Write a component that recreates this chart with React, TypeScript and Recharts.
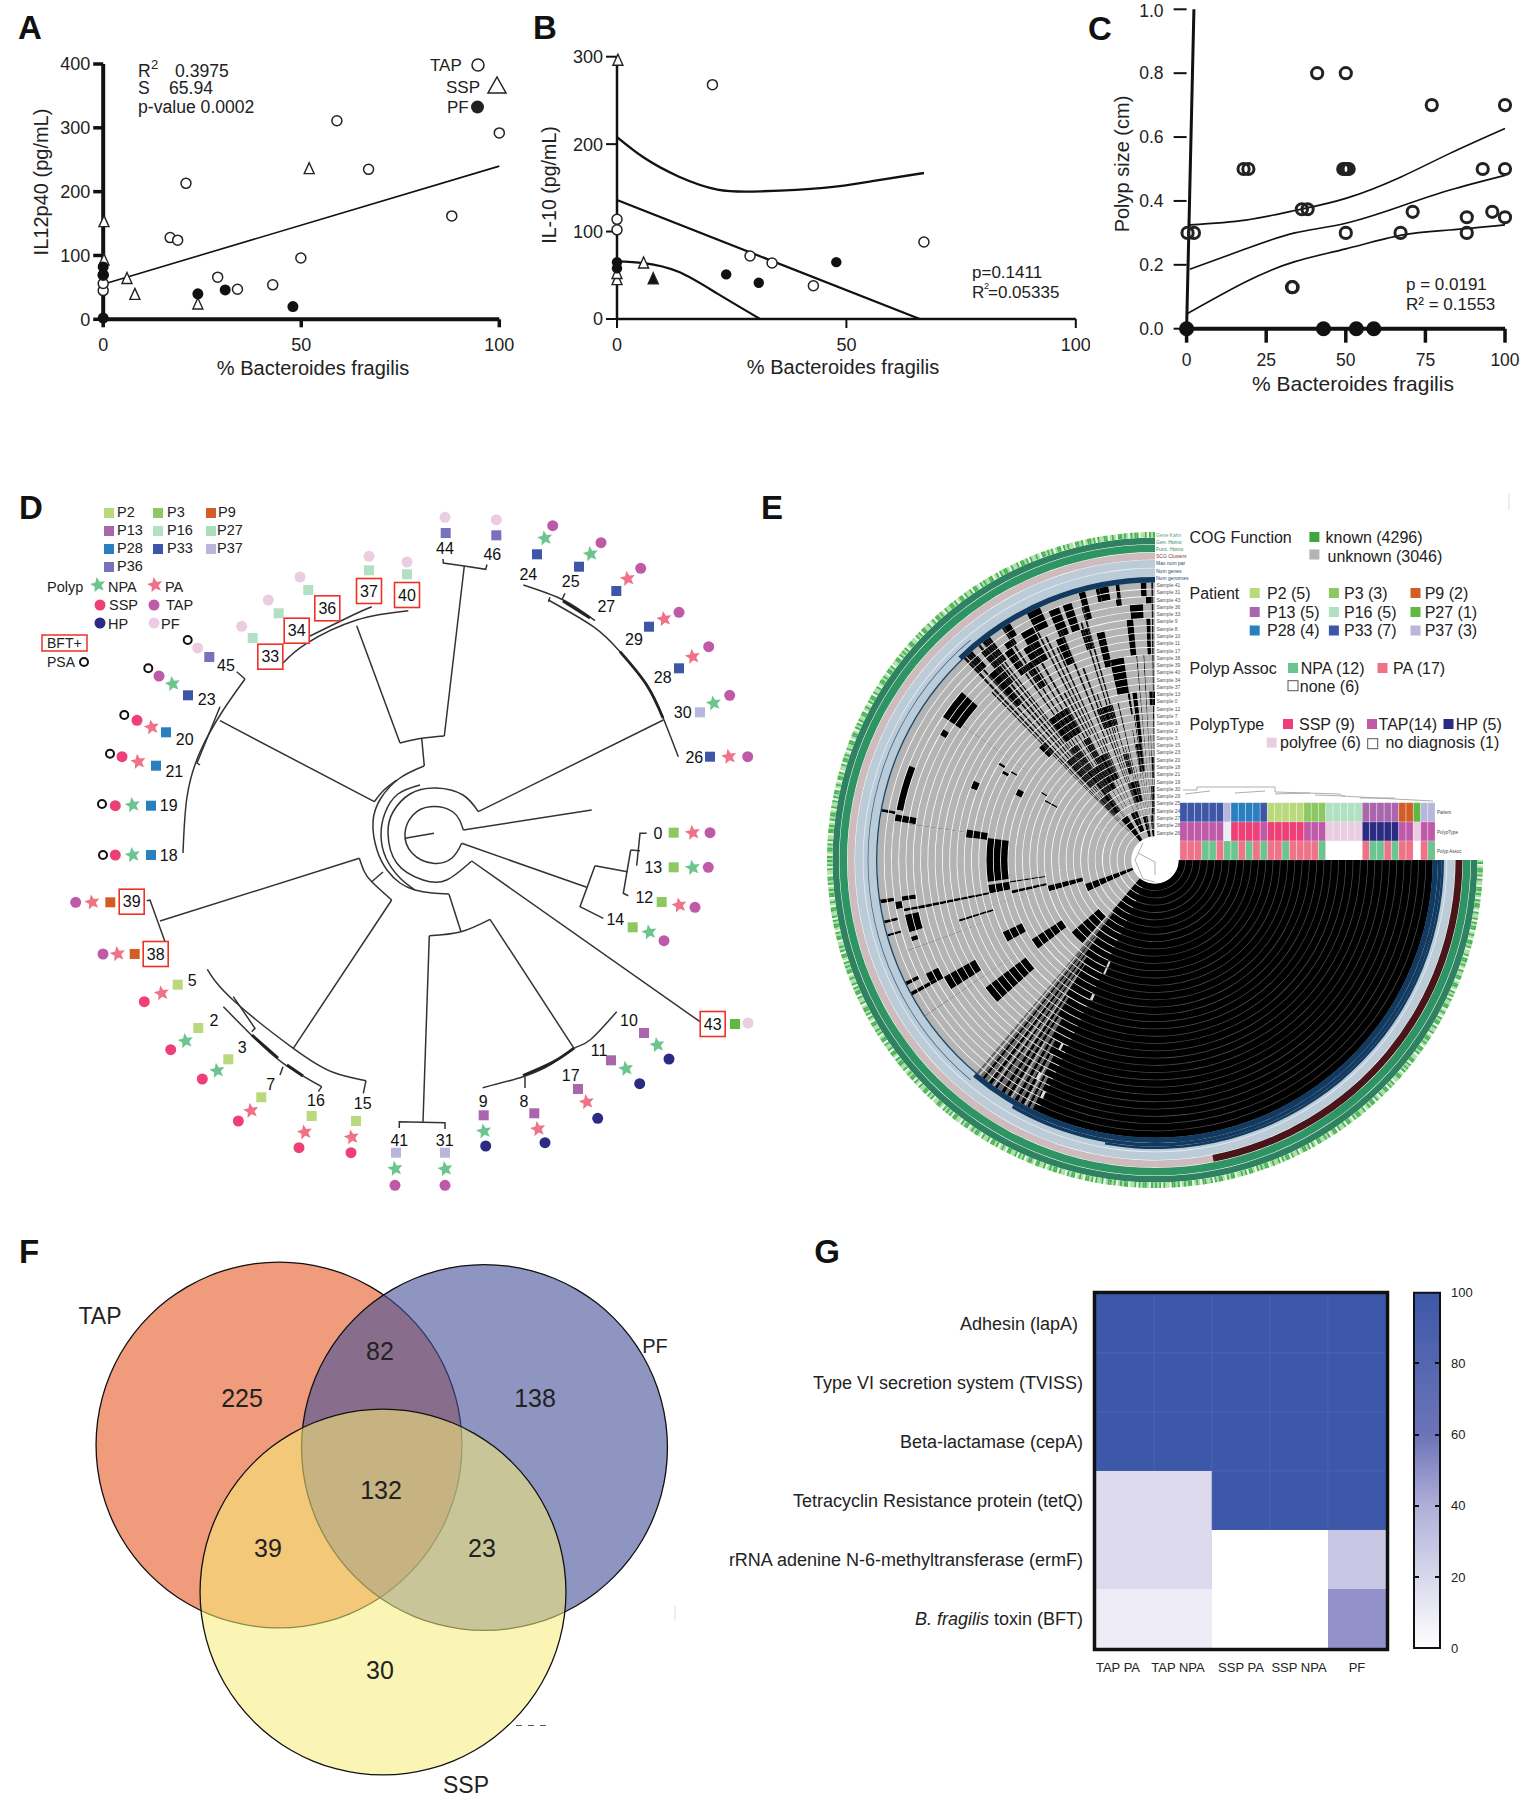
import React from 'react'
import {
  Bar, BarChart, Cell, ComposedChart, Line, Pie, PieChart, Scatter, XAxis, YAxis,
} from 'recharts'

const FONT = '"Liberation Sans", Arial, sans-serif'
const INK = '#222'

// ---------- panels A, B, C: x = % B. fragilis, y = measured value ----------
const aTap = [[0,45],[0,56],[0,69],[16.9,128],[18.8,124],[20.9,213],[28.9,66],[33.9,47],[42.8,54],[49.9,96],[59,311],[67,235],[88,162],[100,292]]
const aSsp = [[0.2,153],[0.2,93],[6,64],[8,39],[23.9,24],[52,236]]
const aPf = [[0,82],[0,70],[23.9,40],[30.8,46],[47.9,20],[0,2]]
const aFit = [[0,55],[100,240]]

const bTap = [[0,114],[0,102],[20.8,268],[29,72],[33.8,64],[42.8,38],[66.9,88]]
const bSsp = [[0.2,296],[5.8,64],[0,45],[0,52]]
const bSspFilled = [[7.9,46]]
const bPf = [[0,65],[0,58],[23.8,51],[30.9,41.5],[47.8,65]]
const bUpper = [[0,208],[6,184],[13.4,163],[21.9,148],[31.2,146],[45,150],[56,158],[66.9,167]]
const bMid = [[0,136],[66,0]]
const bLower = [[0,66],[5.9,64],[13.4,54],[21.9,29],[31.2,0]]

const cOpen = [[0.3,0.3],[2.3,0.3],[17.9,0.5],[19.4,0.5],[33.1,0.13],[33.3,0.13],[36.2,0.374],[38,0.374],[41,0.8],[50,0.8],[49.2,0.5],[49.8,0.5],[50.3,0.5],[50.9,0.5],[50,0.3],[67.2,0.3],[71,0.366],[77,0.7],[88,0.349],[88,0.3],[93,0.5],[96,0.366],[100,0.7],[100,0.5],[100,0.349]]
const cFilled = [[0,0],[43,0],[53.3,0],[58.8,0]]
const cUpper = [[1,0.325],[18.6,0.34],[34,0.37],[50,0.408],[67.5,0.476],[82.7,0.549],[100,0.627]]
const cMid = [[1,0.186],[18.6,0.25],[34,0.3],[50,0.33],[67.5,0.384],[82.7,0.434],[100,0.48]]
const cLower = [[0,0.046],[18.6,0.147],[34,0.21],[50,0.25],[67.5,0.293],[82.7,0.309],[100,0.325]]
const cAxisLean = [[0,0],[2.3,1]]

const toXY = (rows: number[][]) => rows.map(([x, y]) => ({ x, y }))

// ---------- panel D: tree read in picture units ----------
const COL: Record<string, string> = {
  P2: '#BAD97C', P3: '#8DC863', P9: '#D25E26', P13: '#A966AC', P16: '#B2E0C2', P27: '#5FB83F', P28: '#2A7FC0',
  P33: '#3D56A8', P36: '#7772BB', P37: '#B8B6DC', NPA: '#6CC48F', PA: '#EE7288', SSP: '#EE3F77', TAP: '#BF5AA8',
  HP: '#2B2B83', PF: '#EBCDE2', none: '#E8EEF4', blank: '#FFFFFF',
}

const tipLabels: [string, number, number, boolean][] = [
  ['45',226,665.7,false],['23',206.7,699.3,false],['20',184.7,739.3,false],['21',174.3,771.7,false],['19',168.7,805.7,false],['18',168.7,855,false],
  ['39',131.7,901.7,true],['38',155.7,954,true],['5',192.3,980.3,false],['2',214,1020.3,false],['3',242.3,1047.7,false],['7',270.7,1084.3,false],
  ['16',316,1100.7,false],['15',362.7,1103.3,false],['41',399.3,1140,false],['31',444.7,1140,false],['9',483.3,1101,false],['8',524,1101.7,false],
  ['17',570.7,1075.3,false],['11',599,1050,false],['10',629,1020,false],['43',712.7,1024,true],['14',615.3,919.7,false],['12',644.3,897.3,false],
  ['13',653.3,867.3,false],['0',658,833.3,false],['26',694.3,757.3,false],['30',682.7,712.3,false],['28',662.7,677.7,false],['29',634,639.3,false],
  ['27',606.3,606,false],['25',570.7,581.7,false],['24',528.3,574,false],['46',492.3,554,false],['44',445,548.3,false],['40',407,595,true],
  ['37',369,591,true],['36',327.3,608.3,true],['34',296.7,630.7,true],['33',270.3,656.7,true],
]
const squareMarks: [string, number, number][] = [
  ['P36',209.3,657],['P33',188,695.3],['P28',166,732.3],['P28',156,765.7],['P28',151,805.7],['P28',151,855],['P9',110.3,902.3],['P9',134.7,954],
  ['P2',177.7,984.7],['P2',198.3,1028],['P2',228.3,1059.3],['P2',261.3,1097.3],['P2',311.7,1116],['P2',356,1121],['P37',396,1152.7],['P37',445,1152.7],
  ['P13',483.7,1115.3],['P13',534.3,1113.3],['P13',578,1089],['P13',611,1060.3],['P13',644,1033],['P27',735,1024],['P3',632.7,927.3],['P3',661.7,902],
  ['P3',673.7,867.3],['P3',673.7,832.7],['P33',710,756.7],['P37',700,712.3],['P33',679,668.3],['P33',649,626.7],['P33',616.3,591],['P33',579,566.7],
  ['P33',537,554.3],['P36',496.3,535.3],['P36',445.7,533],['P16',407,574.3],['P16',369,570.3],['P16',308.3,590],['P16',278.7,613.3],['P16',252.7,638],
]
const starMarks: [string, number, number][] = [
  ['NPA',172.7,684],['PA',151.7,727.3],['PA',138.3,761.7],['NPA',132.7,805],['NPA',132.7,855],['PA',92.3,902.3],['PA',117.7,954],['PA',161.7,993.3],
  ['NPA',185.7,1041],['NPA',217.3,1070.7],['PA',251,1110.7],['PA',304.7,1132.3],['PA',351.7,1137.3],['NPA',395.3,1168.7],['NPA',445.3,1169],['NPA',484,1131.3],
  ['PA',538,1129],['PA',586.7,1102],['NPA',626,1068.7],['NPA',657.3,1045],['NPA',649.3,932.3],['PA',679.3,905.3],['NPA',692.7,867.7],['PA',692.7,832.7],
  ['PA',729,756.7],['NPA',713.7,703.3],['PA',692.7,656.7],['PA',664.3,619],['PA',627.7,578.7],['NPA',590.7,554],['NPA',545,538.3],
]
const dotMarks: [string, number, number][] = [
  ['PF',197.7,648],['TAP',159,676],['SSP',137,720.3],['SSP',122,756.7],['SSP',115.3,805.7],['SSP',115.3,855],['TAP',75.7,902.3],['TAP',103,954],
  ['SSP',144.3,1001.7],['SSP',170.7,1049.7],['SSP',202.3,1079],['SSP',238.3,1121],['SSP',299,1147.7],['SSP',351,1152.7],['TAP',395,1185.3],['TAP',445,1185.3],
  ['HP',485.7,1146],['HP',545,1142.7],['HP',597.7,1118.3],['HP',639.7,1083.7],['HP',669,1059],['PF',748,1023],['TAP',664,940.7],['TAP',695,907.3],
  ['TAP',708.3,867.3],['TAP',710,832.7],['TAP',747.7,756.7],['TAP',729.7,695.3],['TAP',708.7,646.7],['TAP',679,612.3],['TAP',640.7,568.3],['TAP',601,542.7],
  ['TAP',552.7,525.7],['PF',496.3,519.7],['PF',445,517.3],['PF',407,562],['PF',369,556.3],['PF',300,577],['PF',268.3,600],['PF',241.7,626.3],
]
const bftRings = [[187.7,640],[148.3,668.3],[124.3,715],[110,753.7],[102,804],[103,855]]

const treeStraight = [
  [[356.7,625.7],[400,743]],[[444.3,736],[464.3,566]],[[443,559],[443.3,563],[464.3,566],[485.7,569.3],[487,564.5]],[[421.7,738.3],[424.3,766]],
  [[463.3,830],[591.7,810]],[[461.7,843.3],[586.7,887.3]],[[595,865.7],[580,906.7],[603.3,918.3]],[[595,865.7],[627.3,871.7]],
  [[630.7,850],[623.3,893.3],[628.3,895.7]],[[630.7,850],[640,850.7]],[[646.7,833.3],[640,833.3],[636.7,865.7]],[[478.3,811.7],[663.3,720]],
  [[471.7,861],[700,1021.7]],[[405,838.3],[434,833.3]],[[449,894.3],[461,931.7]],[[429.3,935.7],[423,1121.7]],
  [[399.3,1128],[399.3,1121.7],[445,1122.7],[445,1129]],[[490,919.3],[574,1048.3]],[[220,720.7],[374.3,801.7]],[[359.3,858.3],[160,921]],
  [[391.7,900],[293.3,1048.3]],[[146.7,900.7],[150,900],[165,941.7]],[[371.7,881.7],[383,872]],[[363.3,1093.3],[366,1080.7]],[[318.3,1091.7],[321.7,1086.7]],
  [[233.3,996.7],[255,1028.3],[251.7,1031.7]],[[283,1066.7],[280,1075]],[[565,593.3],[561.7,600]],[[550,597.3],[548.3,601.7]],[[236.7,671.7],[245,679]],
  [[525,1076.7],[525,1088]],[[220,706.7],[197,763],[200,765]],
]
const treeArcs = [
  [[283.3,662.7],[306.7,643.3],[356.7,620],[408.3,610.7]],[[308,637],[353,615],[371.7,606.7]],[[400,743],[421.7,738.3],[444.3,736]],
  [[424,766],[400,778],[381,798],[373,822],[377,850],[387,870],[400,883],[415,890],[432,893],[449,894]],[[374.3,801.7],[384,790],[396.7,780]],
  [[359.3,858.3],[364,871],[371.7,881.7],[391.7,900]],
  [[463.3,830],[453,812],[430,806.7],[413,815],[405,833],[412,853],[433,863.3],[452,858],[461.7,843.3]],
  [[478.3,811.7],[463,795],[436,788],[410,794],[393,812],[388,833],[396.7,863],[423,880],[446.7,880],[471.7,861]],
  [[420,785],[398,794],[385,813],[381,835],[386,858],[400,878],[415,890]],
  [[616.7,1011.7],[590,1040],[574,1048.3],[553,1063],[523,1076.7],[482.7,1087.7]],[[429.3,935.7],[461,931.7],[490,919.3]],
  [[245,679],[222,712],[200,752],[187,797],[183,853]],[[207.3,969.3],[233,1000],[293.3,1048.3],[333,1072.3],[366,1080.7]],
  [[223.3,1006.7],[253,1036.7],[283.3,1063.3],[321.7,1086.7]],
  [[548.3,600],[593.3,626.7],[620,651.7],[646.7,685],[663.3,718.3],[678.3,756.7]],[[523.3,585],[563.3,600],[595,620.7]],
]
const treeHeavy = [
  [[523,1075.5],[553,1062],[574,1048]],[[252,1035],[278,1058]],[[287,1065],[303,1076]],[[620,651.7],[646.7,685],[663,718]],[[563,601],[590,618]],
]
// the tiny trees of panel E
const eTreeGray = [
  [[1143,843],[1135,860],[1143,879],[1155,882]],[[1138,853],[1155,862],[1155,875]],[[1183,790],[1197,790],[1197,787],[1275,787],[1275,792],[1340,794],[1342,796],[1395,799],[1433,801]],
  [[1185,794],[1210,791]],[[1235,793],[1265,791]],[[1275,794],[1310,793]],[[1315,795],[1345,796]],[[1360,798],[1395,798]],
]

// ---------- panel E: ring index 0 is the innermost sample, 34 the outermost ----------
const samples = ['41','31','43','36','33','9','8','10','11','17','38','39','40','34','37','13','0','12','7','16','2','3','15','23','20','18','21','19','30','29','25','24','27','28','26']
const ringHeads: [string, string][] = [['Gene Kahn','#5aa97c'],['Gen. Homo','#2d8a5f'],['Func. Homo','#2d8a5f'],['SCG Clusters','#7a3b3b'],['Max num par','#1d4a6a'],['Num genes','#1d4a6a'],['Num genomes','#1d4a6a']]

// [from deg, to deg, first ring, last ring]
const grayZoneBlocks = [
  [139,146,29,31],[148.3,149.8,30,30],[159,169,32,32],[169.4,170,33,34],[170,171.5,30,32],[170.8,173.2,20,22],[172.5,187.5,17,19],[188.5,191.5,17,19],
  [188.2,189,33,34],[189.2,190.8,32,32],[188.2,189.2,30,31],[192.4,196.4,30,31],[191,191.6,30,31],[192.6,193.2,33,34],[195.5,196,33,34],[197.5,198.5,31,31],
  [191,191.7,20,29],[188.3,188.9,12,16],[192,193.2,12,16],[193.5,196.5,7,11],[199,205,0,6],[196.9,197.5,20,24],[209,212.4,25,29],[206.4,209.2,30,31],
  [206,206.8,33,34],[208.4,209.2,31,34],[217,222,19,25],[205.4,209,17,19],[212.8,217.2,12,16],[221,229,7,11],[156.4,158.7,23,23],[152.6,155,17,17],
  [149.5,150.5,20,20],[147.9,148.7,21,21],[149,149.7,14,14],[151.3,152.1,12,13],[148.2,148.8,19,19],
]
const wedgeBlocks = [
  [91.8,93,33,34],[90.5,92,32,32],[92.7,95.7,30,31],[99.7,101.6,33,34],[97.4,98.2,33,34],[97.4,98.6,32,32],[101.6,102.4,33,34],[91.1,92.1,25,29],[95.2,96.8,25,29],
  [102.5,104.5,24,28],[98.8,102.8,20,24],[104.6,106,31,34],[110.8,113.2,30,33],[112.1,114.3,26,29],[105.3,111.3,16,18],[90,92,18,19],[96.2,97.8,13,19],[98.6,99.4,17,19],
  [120,127,17,20],[122.5,125,32,32],[121.5,123,33,34],[117.7,120.7,31,32],[131.2,132.8,33,34],[131,133,32,33],[130,132,25,30],[133,136,17,18],[118,128,8,11],
  [102,110,5,7],[125,133,5,7],[90.5,93.5,3,6],[96.5,99.5,9,12],[92,96,0,2],[100,106,0,2],[110,118,1,3],[122,130,0,3],
  [124,126,28,31],[126.5,128.5,31,34],[128.5,130,28,33],[122,124,25,28],[118,122,28,30],[114.5,117.5,32,34],[108,110,30,33],[106,108,27,29],[124,128,12,15],
  [128,132,10,14],[114,118,9,12],[90.5,92,8,10],[104,107,9,11],[118,121,12,15],
]
const wedgeStreaks = [
  [133,133.6,1,34],[130.2,130.8,3,26],[127.8,128.3,8,34],[125.8,126.3,4,16],[121.3,121.8,5,28],[118.2,118.8,5,22],[115.8,116.3,6,30],[113.2,113.8,2,14],
  [110.2,110.8,8,24],[107.8,108.3,2,15],[105.8,106.3,10,32],[104.6,105,3,12],[101.6,102,1,9],[99.6,100,1,14],[96.3,96.7,3,12],[94.3,94.7,1,7],[91.8,92.2,0,13],
  [112,112.6,14,30],[114.5,115,10,28],[117,117.5,16,32],[119.6,120.2,10,30],[123,123.5,8,34],[124.5,125,4,30],[127,127.4,12,34],[129,129.6,6,34],[131.8,132.3,2,34],
  [134,134.4,3,28],[109,109.5,4,20],[107,107.5,15,30],[103,103.5,6,18],[98,98.4,4,16],[95,95.3,8,24],[93,93.3,4,24],[90.4,90.8,0,34],
]
const faintStreaks = [[171.5,171.8,23,30],[186,186.3,8,16],[191.9,192.2,8,12],[195.3,195.6,12,19],[200,200.3,22,32],[214,214.3,20,34],[150.5,150.8,4,11],[145,145.3,14,28]]
const mixedDark = [[230,231.6,6,34],[232.2,233.2,10,34],[234,234.8,13,34],[235.4,236.4,16,34],[237.2,237.8,19,34],[238.6,239.6,22,34],[240.4,241,25,34],[241.8,242.6,27,34],[243.2,243.8,30,34]]
const mixedPale = [[230.6,231,14,34],[233,233.2,20,34],[234.4,234.6,24,34],[236,236.2,14,28],[238.8,239,26,34],[242,242.2,29,34]]
const coreFlecks = [[245.5,246.5,12,13],[245,246,17,17],[243,243.6,25,25],[244.2,244.8,32,32],[241.4,242,30,30]]

const cogSpeckle = 'abacabbcaabacbabaacbabcaabbacabaabcabaacbbabacaabcababaacbabbacabaacabbacbaabacabcaabbabacbaacabbacaabcabaabbacbabaacabcabbaacabacbbaabcababacaabbcabaacbabaabcabbacaabacbabcaabbacabacbaabcaabbacbabaacabbcabaacbabcaabacabbacbaabacbabaacbbacabaabcab'

const stripPatient = ['P33','P33','P33','P33','P33','P33','P37','P28','P28','P28','P28','P33','P2','P2','P2','P2','P2','P3','P3','P3','P16','P16','P16','P16','P16','P13','P13','P13','P13','P13','P9','P9','P27','P37','P37']
const stripType = ['TAP','TAP','TAP','TAP','TAP','TAP','none','SSP','SSP','SSP','SSP','TAP','SSP','SSP','SSP','SSP','SSP','TAP','TAP','TAP','PF','PF','PF','PF','PF','HP','HP','HP','HP','HP','TAP','TAP','PF','TAP','TAP']
const stripAssoc = ['PA','PA','PA','NPA','NPA','PA','NPA','NPA','PA','NPA','PA','NPA','PA','PA','NPA','PA','PA','PA','PA','NPA','blank','blank','blank','blank','blank','PA','NPA','NPA','PA','NPA','PA','PA','blank','PA','NPA']

// ---------- panel F ----------
const vennCounts: [string, number, number][] = [['225',242,1398],['82',380,1351],['138',535,1398],['132',381,1490],['39',268,1548],['23',482,1548],['30',380,1670]]
const vennSets = [
  { name: 'TAP', cx: 279, cy: 225, fill: '#F09B7B', alpha: 1 },
  { name: 'PF', cx: 484.5, cy: 227.5, fill: '#444E98', alpha: 0.6 },
  { name: 'SSP', cx: 383, cy: 372, fill: '#F8ED78', alpha: 0.55 },
]

// ---------- panel G ----------
const heatGenes = ['Adhesin (lapA)','Type VI secretion system (TVISS)','Beta-lactamase (cepA)','Tetracyclin Resistance protein (tetQ)','rRNA adenine N-6-methyltransferase (ermF)','B. fragilis toxin (BFT)']
const heatGroups = ['TAP PA','TAP NPA','SSP PA','SSP NPA','PF']
const heatTapPa = [100,100,100,20,20,8]
const heatTapNpa = [100,100,100,20,20,8]
const heatSspPa = [100,100,100,100,0,0]
const heatSspNpa = [100,100,100,100,0,0]
const heatPf = [100,100,100,100,25,50]
const heatColumns = [heatTapPa, heatTapNpa, heatSspPa, heatSspNpa, heatPf]
const heatScale: Record<number, string> = { 100: '#3D58A8', 50: '#9291C9', 25: '#C9C8E4', 20: '#DCDAEC', 8: '#ECEBF6', 0: '#FFFFFF' }
const scaleTicks = [0, 20, 40, 60, 80, 100]

// ---------- helpers ----------
const place = (left: number, top: number): React.CSSProperties => ({ position: 'absolute', left, top })

function starPoints(cx: number, cy: number, r: number) {
  const pts: string[] = []
  for (let i = 0; i < 10; i++) {
    const rad = i % 2 === 0 ? r : r * 0.45
    const a = (-100 + i * 36) * Math.PI / 180
    pts.push(`${cx + rad * Math.cos(a)},${cy + rad * Math.sin(a)}`)
  }
  return pts.join(' ')
}

const openCircle = (r: number, sw: number) => (p: any) => <circle cx={p.cx} cy={p.cy} r={r} fill="#fff" fillOpacity={sw > 2 ? 0 : 1} stroke={INK} strokeWidth={sw} />
const solidCircle = (r: number) => (p: any) => <circle cx={p.cx} cy={p.cy} r={r} fill="#111" />
const triangle = (fill: string) => (p: any) => <polygon points={`${p.cx},${p.cy - 6} ${p.cx + 5},${p.cy + 5} ${p.cx - 5},${p.cy + 5}`} fill={fill} stroke={INK} strokeWidth={1.4} />

const markSquare = (p: any) => <rect x={p.cx - 5} y={p.cy - 5} width={10} height={10} fill={COL[p.payload.kind]} />
const markStar = (p: any) => <polygon points={starPoints(p.cx, p.cy, 8)} fill={COL[p.payload.kind]} />
const markDot = (p: any) => <circle cx={p.cx} cy={p.cy} r={5.5} fill={COL[p.payload.kind]} />
const markRing = (p: any) => <circle cx={p.cx} cy={p.cy} r={4} fill="none" stroke="#111" strokeWidth={2} />
const markLabel = (p: any) => (
  <g>
    {p.payload.boxed && <rect x={p.cx - 12.5} y={p.cy - 12.5} width={25} height={25} fill="#fff" stroke="#EE3124" strokeWidth={1.6} />}
    <text x={p.cx} y={p.cy} textAnchor="middle" dominantBaseline="central" fontFamily={FONT} fontSize={16} fill="#111">{p.payload.label}</text>
  </g>
)

function T({ x, y, s = 17, a = 'start', w, i, c = INK, rot, children }: any) {
  return (
    <text x={x} y={y} fontSize={s} textAnchor={a} fontWeight={w} fontStyle={i ? 'italic' : undefined} fill={c} fontFamily={FONT}
      dominantBaseline="central" transform={rot ? `rotate(${rot} ${x} ${y})` : undefined}>{children}</text>
  )
}
const Sq = ({ x, y, k, c }: any) => <rect x={x - 5} y={y - 5} width={10} height={10} fill={c || COL[k]} />
const Dot = ({ x, y, k }: any) => <circle cx={x} cy={y} r={5.5} fill={COL[k]} />
const Star = ({ x, y, k }: any) => <polygon points={starPoints(x, y, 8)} fill={COL[k]} />

// ---------- panels A-C ----------
function axisProps(size: number, strokeWidth: number, tickLen: number, margin: number) {
  return {
    tick: { fontSize: size, fill: INK, fontFamily: FONT },
    axisLine: { stroke: '#111', strokeWidth },
    tickLine: { stroke: '#111', strokeWidth: Math.max(2, strokeWidth - 0.5) },
    tickSize: tickLen,
    tickMargin: margin,
  }
}
const fitLine = (key: string, rows: number[][], type: any, width = 1.6) => (
  <Line key={key} data={toXY(rows)} dataKey="y" type={type} stroke="#111" strokeWidth={width} dot={false} activeDot={false} isAnimationActive={false} legendType="none" />
)

function PanelA() {
  return (
    <div style={place(0, 30)}>
      <ComposedChart width={520} height={340} margin={{ left: 23.2, right: 20.7, top: 34, bottom: 10.7 }}>
        <XAxis type="number" dataKey="x" domain={[0, 100]} ticks={[0, 50, 100]} height={40} {...axisProps(18, 4, 8, 11)} />
        <YAxis type="number" dataKey="y" domain={[0, 400]} ticks={[0, 100, 200, 300, 400]} width={80} {...axisProps(18, 4, 10, 3)} />
        {fitLine('fit', aFit, 'linear')}
        <Scatter data={toXY(aTap)} shape={openCircle(5, 1.5)} isAnimationActive={false} />
        <Scatter data={toXY(aSsp)} shape={triangle('#fff')} isAnimationActive={false} />
        <Scatter data={toXY(aPf)} shape={solidCircle(5.5)} isAnimationActive={false} />
      </ComposedChart>
    </div>
  )
}

function PanelB() {
  return (
    <div style={place(530, 30)}>
      <ComposedChart width={560} height={340} margin={{ left: 27, right: 14.2, top: 26.7, bottom: 11 }}>
        <XAxis type="number" dataKey="x" domain={[0, 100]} ticks={[0, 50, 100]} height={40} {...axisProps(18, 2.5, 9, 10)} />
        <YAxis type="number" dataKey="y" domain={[0, 300]} ticks={[0, 100, 200, 300]} width={60} {...axisProps(18, 2.5, 11, 3)} />
        {fitLine('up', bUpper, 'natural', 2.4)}
        {fitLine('mid', bMid, 'linear', 2.2)}
        {fitLine('low', bLower, 'natural', 2.2)}
        <Scatter data={toXY(bTap)} shape={openCircle(5, 1.5)} isAnimationActive={false} />
        <Scatter data={toXY(bSsp)} shape={triangle('#fff')} isAnimationActive={false} />
        <Scatter data={toXY(bSspFilled)} shape={triangle('#111')} isAnimationActive={false} />
        <Scatter data={toXY(bPf)} shape={solidCircle(5.2)} isAnimationActive={false} />
      </ComposedChart>
    </div>
  )
}

function PanelC() {
  return (
    <div style={place(1100, 0)}>
      <ComposedChart width={422} height={380} margin={{ left: 26.6, right: 17, top: 9.3, bottom: 11.3 }}>
        <XAxis type="number" dataKey="x" domain={[0, 100]} ticks={[0, 25, 50, 75, 100]} height={40} {...axisProps(17.5, 4, 14, 11)} />
        <YAxis type="number" dataKey="y" domain={[0, 1]} ticks={[0, 0.2, 0.4, 0.6, 0.8, 1]} width={60} tickFormatter={(v: number) => v.toFixed(1)}
          {...axisProps(17.5, 0, 13, 10)} axisLine={false} />
        {fitLine('lean', cAxisLean, 'linear', 3)}
        {fitLine('up', cUpper, 'natural')}
        {fitLine('mid', cMid, 'natural')}
        {fitLine('low', cLower, 'natural')}
        <Scatter data={toXY(cOpen)} shape={openCircle(5.6, 3)} isAnimationActive={false} />
        <Scatter data={toXY(cFilled)} shape={solidCircle(7.5)} isAnimationActive={false} />
      </ComposedChart>
    </div>
  )
}

// ---------- panel D + small trees of E, in picture units ----------
const treeLine = (key: string, pts: number[][], type: any, color: string, width: number) => (
  <Line key={key} data={toXY(pts)} dataKey="y" type={type} stroke={color} strokeWidth={width} dot={false} activeDot={false} isAnimationActive={false} legendType="none" />
)
function TreeFrame() {
  const withKind = (rows: [string, number, number][]) => rows.map(([kind, x, y]) => ({ kind, x, y }))
  return (
    <div style={place(0, 480)}>
      <ComposedChart width={1522} height={740} margin={{ left: 0, right: 0, top: 0, bottom: 0 }}>
        <XAxis hide type="number" dataKey="x" domain={[0, 1522]} />
        <YAxis hide type="number" dataKey="y" domain={[480, 1220]} reversed />
        {treeStraight.map((p, i) => treeLine(`s${i}`, p, 'linear', '#333', 1.5))}
        {treeArcs.map((p, i) => treeLine(`a${i}`, p, 'natural', '#333', 1.5))}
        {treeHeavy.map((p, i) => treeLine(`h${i}`, p, 'natural', '#222', 2.8))}
        {eTreeGray.map((p, i) => treeLine(`e${i}`, p, 'linear', '#999', 0.8))}
        <Scatter data={bftRings.map(([x, y]) => ({ x, y }))} shape={markRing} isAnimationActive={false} />
        <Scatter data={withKind(squareMarks)} shape={markSquare} isAnimationActive={false} />
        <Scatter data={withKind(starMarks)} shape={markStar} isAnimationActive={false} />
        <Scatter data={withKind(dotMarks)} shape={markDot} isAnimationActive={false} />
        <Scatter data={tipLabels.map(([label, x, y, boxed]) => ({ label, x, y, boxed }))} shape={markLabel} isAnimationActive={false} />
      </ComposedChart>
    </div>
  )
}

// ---------- panel E ----------
const GRAY = '#B4B4B4'
const BLACK = '#000000'
type Span = { a: number; b: number; c: string }

function overpaint(spans: Span[], a0: number, a1: number, c: string) {
  const out: Span[] = []
  for (const s of spans) {
    if (s.b <= a0 || s.a >= a1) { out.push(s); continue }
    if (s.a < a0) out.push({ a: s.a, b: a0, c: s.c })
    out.push({ a: Math.max(s.a, a0), b: Math.min(s.b, a1), c })
    if (s.b > a1) out.push({ a: a1, b: s.b, c: s.c })
  }
  return out
}

function ringSpans(ring: number) {
  let spans: Span[] = [{ a: 90, b: 230, c: GRAY }, { a: 230, b: 360, c: BLACK }]
  const layers: [number[][], string][] = [
    [faintStreaks, '#8a8a8a'], [grayZoneBlocks, BLACK], [wedgeStreaks, '#111'], [wedgeBlocks, BLACK], [mixedDark, '#666'], [mixedPale, '#b8b8b8'], [coreFlecks, '#d8d8d8'],
  ]
  for (const [list, color] of layers) {
    for (const [a0, a1, r0, r1] of list) {
      if (ring >= r0 && ring <= r1) spans = overpaint(spans, a0, a1, color)
    }
  }
  return spans
}

const pieBase = { cx: 335, cy: 340, startAngle: 90, endAngle: 360, stroke: 'none', isAnimationActive: false, dataKey: 'value', legendType: 'none' as const }

function band(key: string, inner: number, outer: number, spans: [number, string][]) {
  return (
    <Pie key={key} {...pieBase} innerRadius={inner} outerRadius={outer} data={spans.map(([value]) => ({ value }))}>
      {spans.map(([, c], i) => <Cell key={i} fill={c} stroke="none" />)}
    </Pie>
  )
}

function PanelE() {
  const speckle = cogSpeckle.repeat(3).split('')
  const speckleFill: Record<string, string> = { a: '#45B34F', b: '#A9DDA3', c: '#E9F6E6' }
  return (
    <div style={place(820, 520)}>
      <PieChart width={680} height={680} margin={{ left: 0, right: 0, top: 0, bottom: 0 }}>
        {band('backing', 24, 278, [[155, 'transparent'], [115, '#4a4a4a']])}
        {Array.from({ length: 35 }, (_, ring) => {
          const spans = ringSpans(ring)
          const mid = 27 + 7.28 * ring
          return (
            <Pie key={ring} {...pieBase} innerRadius={mid - 3.25} outerRadius={mid + 3.25} data={spans.map(s => ({ value: s.b - s.a }))}>
              {spans.map((s, i) => <Cell key={i} fill={s.c} stroke="none" />)}
            </Pie>
          )
        })}
        {band('blue', 278, 300, [[270, '#BBCCD8']])}
        {band('blueLine', 291.5, 292.3, [[270, '#E6EEF3']])}
        {band('navyThin', 277.6, 279, [[270, '#1D4A6A']])}
        {band('navyThin2', 286.6, 287.4, [[40, 'transparent'], [100, '#41688a'], [130, 'transparent']])}
        {band('navy', 278, 283, [[44, '#12395F'], [96, 'transparent'], [130, '#12395F']])}
        {band('navyMid', 283, 286.5, [[150, 'transparent'], [120, '#12395F']])}
        {band('navyWide', 286.5, 289, [[170, 'transparent'], [100, '#12395F']])}
        {band('taupe', 300.5, 307.5, [[191, '#CDBBBD'], [79, '#4A1518']])}
        {band('green1', 308, 315.5, [[270, '#2F9464']])}
        {band('green2', 316, 322.5, [[270, '#2E8261']])}
        <Pie {...pieBase} innerRadius={322.5} outerRadius={328} data={speckle.map(() => ({ value: 1 }))}>
          {speckle.map((k, i) => <Cell key={i} fill={speckleFill[k]} stroke="none" />)}
        </Pie>
      </PieChart>
    </div>
  )
}

function SampleStrip() {
  const rows = stripPatient.map((_, i) => ({ i, one: 1 }))
  const layers = [stripAssoc, stripType, stripPatient]
  return (
    <div style={place(1170, 795)}>
      <BarChart width={275} height={70} data={rows} barCategoryGap={0} margin={{ left: 10, right: 9.7, top: 7.7, bottom: 5 }}>
        <XAxis hide dataKey="i" />
        <YAxis hide type="number" domain={[0, 3]} />
        {layers.map((layer, li) => (
          <Bar key={li} dataKey="one" stackId="strip" isAnimationActive={false}>
            {layer.map((k, i) => <Cell key={i} fill={COL[k]} stroke="#ffffff" strokeOpacity={k === 'blank' ? 0 : 0.35} strokeWidth={0.5} />)}
          </Bar>
        ))}
      </BarChart>
    </div>
  )
}

// ---------- panel F ----------
function PanelF() {
  return (
    <div style={place(0, 1220)}>
      <PieChart width={720} height={580} margin={{ left: 0, right: 0, top: 0, bottom: 0 }}>
        {vennSets.flatMap(v => [
          <Pie key={v.name} cx={v.cx} cy={v.cy} outerRadius={183} innerRadius={0} data={[{ value: 1 }]} dataKey="value" stroke="none" isAnimationActive={false} legendType="none">
            <Cell fill={v.fill} fillOpacity={v.alpha} stroke="none" />
          </Pie>,
          <Pie key={v.name + 'edge'} cx={v.cx} cy={v.cy} outerRadius={183.6} innerRadius={182.3} data={[{ value: 1 }]} dataKey="value" stroke="none" isAnimationActive={false} legendType="none">
            <Cell fill="#111" stroke="none" />
          </Pie>,
        ])}
      </PieChart>
    </div>
  )
}

// ---------- panel G ----------
function GeneTick(p: any) {
  const name: string = p.payload.value
  const shift = name.startsWith('Adhesin') ? -5 : 0
  return (
    <text x={p.x + shift} y={p.y} textAnchor="end" dominantBaseline="central" fontFamily={FONT} fontSize={18} fill={INK}>
      {name.startsWith('B. fragilis')
        ? <><tspan fontStyle="italic">B. fragilis</tspan><tspan> toxin (BFT)</tspan></>
        : name}
    </text>
  )
}

function GroupTick(p: any) {
  const i = Math.floor(p.payload.value)
  const nudge = [-7, -5, 0, 0, 0][i]
  return (
    <text x={p.x + nudge} y={p.y} textAnchor="middle" dominantBaseline="hanging" fontFamily={FONT} fontSize={13} fill={INK}>{heatGroups[i]}</text>
  )
}

function PanelG() {
  const rows = heatGenes.map(name => ({ name, one: 1 }))
  return (
    <div style={place(720, 1280)}>
      <BarChart layout="vertical" width={680} height={400} data={rows} barCategoryGap={0} margin={{ left: 10, right: 14, top: 14, bottom: 2 }}>
        <XAxis type="number" domain={[0, 5]} ticks={[0.5, 1.5, 2.5, 3.5, 4.5]} height={30}
          axisLine={false} tickLine={false} tickMargin={8} interval={0} tick={GroupTick} />
        <YAxis type="category" dataKey="name" width={366} tick={GeneTick} axisLine={false} tickLine={false} tickSize={0} tickMargin={13} interval={0} />
        {heatColumns.map((col, ci) => (
          <Bar key={ci} dataKey="one" stackId="heat" isAnimationActive={false}>
            {col.map((v, i) => <Cell key={i} fill={heatScale[v]} stroke={v === 100 ? '#4F69B4' : 'none'} strokeWidth={0.6} />)}
          </Bar>
        ))}
      </BarChart>
    </div>
  )
}

function ColorScale() {
  return (
    <div style={place(1400, 1280)}>
      <BarChart width={90} height={380} data={[{ top: 100 }]} barCategoryGap={0} margin={{ left: 14, right: 0, top: 12.7, bottom: 12 }}>
        <defs>
          <linearGradient id="heatRamp" x1="0" y1="0" x2="0" y2="1">
            <stop offset="0" stopColor="#3D58A8" />
            <stop offset="0.4" stopColor="#6C74B8" />
            <stop offset="0.6" stopColor="#AFAFD8" />
            <stop offset="0.8" stopColor="#D8D8EC" />
            <stop offset="1" stopColor="#FFFFFF" />
          </linearGradient>
        </defs>
        <XAxis hide dataKey="top" />
        <YAxis orientation="right" type="number" domain={[0, 100]} ticks={scaleTicks} width={50} axisLine={false} tickLine={false} tickSize={0} tickMargin={11}
          tick={{ fontSize: 13, fill: INK, fontFamily: FONT }} />
        <Bar dataKey="top" fill="url(#heatRamp)" stroke="#111" strokeWidth={2} isAnimationActive={false} />
      </BarChart>
    </div>
  )
}

// ---------- text and keys ----------
function Notes() {
  const letter = (t: string, x: number, y: number) => <T key={t} x={x} y={y} s={33} a="middle" w="bold" c="#111">{t}</T>
  return (
    <svg width={1522} height={1800} style={{ ...place(0, 0), pointerEvents: 'none' }}>
      {letter('A', 30, 27)}{letter('B', 545, 27)}{letter('C', 1100, 28)}{letter('D', 31, 507)}{letter('E', 772, 507)}{letter('F', 29, 1251)}{letter('G', 827, 1251)}

      <T x={41} y={182} a="middle" rot={-90} s={20}>IL12p40 (pg/mL)</T>
      <T x={313} y={368} a="middle" s={20}>% Bacteroides fragilis</T>
      <T x={138} y={71} s={17.6}>R</T><T x={151} y={64} s={13}>2</T><T x={175} y={71} s={17.6}>0.3975</T>
      <T x={138} y={88} s={17.6}>S</T><T x={169} y={88} s={17.6}>65.94</T>
      <T x={138} y={107} s={17.6}>p-value 0.0002</T>
      <T x={430} y={65}>TAP</T><circle cx={478} cy={65} r={6} fill="none" stroke={INK} strokeWidth={1.5} />
      <T x={446} y={87}>SSP</T><polygon points="497,77 506,93 488,93" fill="none" stroke={INK} strokeWidth={1.5} />
      <T x={447} y={107}>PF</T><circle cx={477.5} cy={107} r={6.5} fill="#222" />

      <T x={549} y={185} a="middle" rot={-90} s={19.6}>IL-10 (pg/mL)</T>
      <T x={843} y={367} a="middle" s={20}>% Bacteroides fragilis</T>
      <T x={972} y={272}>p=0.1411</T><T x={972} y={292}>R</T><T x={984} y={286} s={9}>2</T><T x={988} y={292}>=0.05335</T>

      <T x={1122} y={164} a="middle" rot={-90} s={20}>Polyp size (cm)</T>
      <T x={1353} y={383} a="middle" s={21}>% Bacteroides fragilis</T>
      <T x={1406} y={284} s={17}>p = 0.0191</T><T x={1406} y={304} s={17}>R² = 0.1553</T>

      {/* D key */}
      {([['P2',109,513,117],['P3',158,513,167],['P9',211,513,218],['P13',109,531,117],['P16',158,531,167],['P27',211,531,217],['P28',109,549,117],['P33',158,549,167],['P37',211,549,217],['P36',109,567,117]] as [string, number, number, number][]).map(([k, x, y, tx]) => (
        <g key={k}><Sq x={x} y={y} k={k} c={k === 'P27' ? '#A9DDB9' : undefined} /><T x={tx} y={y - 1} s={14.5}>{k}</T></g>
      ))}
      <T x={47} y={587} s={14.5}>Polyp</T>
      <Star x={98} y={585} k="NPA" /><T x={108} y={587} s={14.5}>NPA</T>
      <Star x={155} y={585} k="PA" /><T x={165} y={587} s={14.5}>PA</T>
      <Dot x={100} y={605} k="SSP" /><T x={109} y={605} s={14.5}>SSP</T>
      <Dot x={154} y={605} k="TAP" /><T x={166} y={605} s={14.5}>TAP</T>
      <Dot x={100} y={623} k="HP" /><T x={108} y={624} s={14.5}>HP</T>
      <Dot x={154} y={623} k="PF" /><T x={161} y={624} s={14.5}>PF</T>
      <rect x={42} y={635} width={45} height={16} fill="none" stroke="#EE3124" strokeWidth={1.5} />
      <T x={47} y={643} s={14}>BFT+</T>
      <T x={47} y={662} s={14}>PSA</T><circle cx={84} cy={662} r={4} fill="none" stroke="#111" strokeWidth={2} />

      {/* E key */}
      <T x={1189.5} y={537} s={16}>COG Function</T>
      <Sq x={1314.4} y={537} c="#3FA63F" /><T x={1325.6} y={537} s={16}>known (4296)</T>
      <Sq x={1314.4} y={554.5} c="#B4B4B4" /><T x={1327.5} y={556} s={16}>unknown (3046)</T>
      <T x={1189.5} y={593} s={16}>Patient</T>
      {([['P2 (5)',1254.7,593,1267,'P2'],['P3 (3)',1333.9,593,1344,'P3'],['P9 (2)',1415.5,593,1424.7,'P9'],['P13 (5)',1254.7,612,1267,'P13'],['P16 (5)',1333.9,612,1344,'P16'],['P27 (1)',1415.5,612,1424.7,'P27'],['P28 (4)',1254.7,630.5,1267,'P28'],['P33 (7)',1333.9,630.5,1344,'P33'],['P37 (3)',1415.5,630.5,1424.7,'P37']] as [string, number, number, number, string][]).map(([t, x, y, tx, k]) => (
        <g key={t}><Sq x={x} y={y} k={k} /><T x={tx} y={y} s={16}>{t}</T></g>
      ))}
      <T x={1189.5} y={668} s={16}>Polyp Assoc</T>
      <Sq x={1293} y={668} k="NPA" /><T x={1300.8} y={668} s={16}>NPA (12)</T>
      <Sq x={1382.5} y={668} k="PA" /><T x={1393} y={668} s={16}>PA (17)</T>
      <rect x={1288} y={680.7} width={10} height={10} fill="none" stroke="#555" /><T x={1299.8} y={686.6} s={16}>none (6)</T>
      <T x={1189.5} y={724} s={16}>PolypType</T>
      <Sq x={1288} y={724} k="SSP" /><T x={1299} y={724} s={16}>SSP (9)</T>
      <Sq x={1372} y={724} k="TAP" /><T x={1378.6} y={724} s={16}>TAP(14)</T>
      <Sq x={1448.5} y={724} k="HP" /><T x={1455.8} y={724} s={16}>HP (5)</T>
      <Sq x={1271.7} y={742.7} k="PF" /><T x={1280} y={742.7} s={16}>polyfree (6)</T>
      <rect x={1367.7} y={738.7} width={10} height={10} fill="none" stroke="#555" /><T x={1385.4} y={742.7} s={16}>no diagnosis (1)</T>
      {samples.map((s, i) => <T key={i} x={1156.5} y={585 + i * 7.28} s={5} c="#555">{`Sample ${s}`}</T>)}
      {ringHeads.map(([s, c], i) => <T key={s} x={1156} y={535 + i * 7.1} s={5} c={c}>{s}</T>)}
      <T x={1437} y={812} s={4.5} c="#444">Patient</T>
      <T x={1437} y={832} s={4.5} c="#444">PolypType</T>
      <T x={1437} y={851} s={4.5} c="#444">Polyp Assoc</T>
      <line x1={1509} x2={1509} y1={493} y2={510} stroke="#ddd" strokeWidth={1} />

      {/* F */}
      <T x={100} y={1316} a="middle" s={23}>TAP</T>
      <T x={655} y={1346} a="middle" s={20}>PF</T>
      <T x={466} y={1785} a="middle" s={23}>SSP</T>
      {vennCounts.map(([t, x, y]) => <T key={t} x={x} y={y} a="middle" s={25}>{t}</T>)}
      <line x1={516} x2={549} y1={1725.5} y2={1725.5} stroke="#555" strokeWidth={1.2} strokeDasharray="6 6" />
      <line x1={675} x2={675} y1={1606} y2={1620} stroke="#ddd" strokeWidth={1} />

      {/* G */}
      <rect x={1094.5} y={1292.5} width={293} height={357} fill="none" stroke="#111" strokeWidth={3.5} />
      {[1363, 1435, 1506, 1577].map(y => (
        <g key={y} stroke="#111" strokeWidth={2}><line x1={1414} x2={1419} y1={y} y2={y} /><line x1={1435} x2={1440} y1={y} y2={y} /></g>
      ))}
    </svg>
  )
}

export default function App() {
  return (
    <div style={{ ...place(0, 0), width: 1522, height: 1800, background: '#fff', overflow: 'hidden' }}>
      <PanelE />
      <SampleStrip />
      <PanelA />
      <PanelB />
      <PanelC />
      <TreeFrame />
      <PanelF />
      <PanelG />
      <ColorScale />
      <Notes />
    </div>
  )
}
